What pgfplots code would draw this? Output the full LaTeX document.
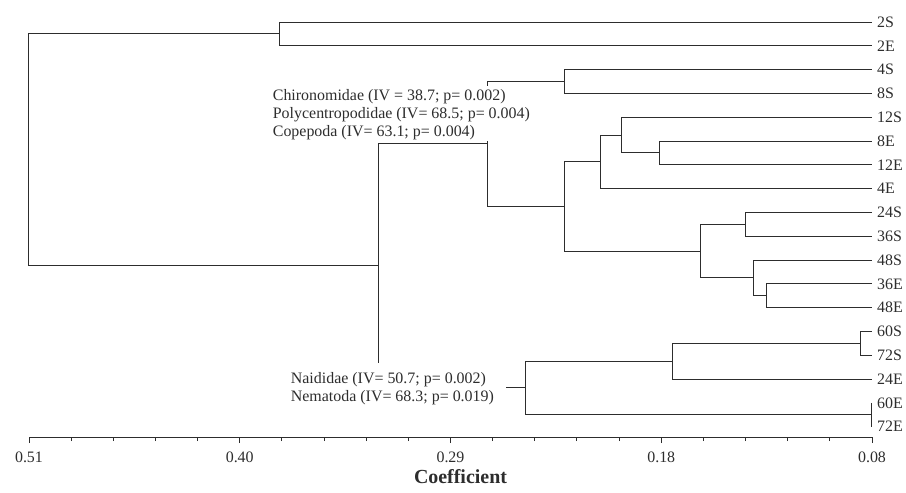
\documentclass[border=0pt]{standalone}
\usepackage{fontspec}
\setmainfont{Liberation Serif}
\usepackage{pgfplots}
\pgfplotsset{compat=1.18}
\usetikzlibrary{calc}

\newcommand\lab{\fontsize{16}{18}\selectfont}
\definecolor{ink}{RGB}{45,45,45}

\begin{document}
\begin{tikzpicture}
\begin{axis}[
  scale only axis, width=843bp, height=437bp,
  x dir=reverse, xmin=0.08, xmax=0.51, ymin=0.563, ymax=18.925,
  axis x line=bottom, axis y line=none,
  axis line style={-, ink, line width=0.9bp},
  xtick={0.08,0.1875,0.295,0.4025,0.51},
  xticklabels={0.08,0.18,0.29,0.40,0.51},
  minor x tick num=4,
  tick align=outside,
  major tick length=6bp, minor tick length=4bp,
  every tick/.style={ink, line width=0.9bp},
  xticklabel style={font=\lab, text=ink, anchor=base, yshift=-19bp},
  /pgf/number format/assume math mode=true,
  xlabel={Coefficient},
  xlabel style={font=\bfseries\fontsize{20}{24}\selectfont, text=ink, xshift=10bp},
  clip=false,
  every axis plot post/.append style={ink, solid, line width=1bp, mark=none},
]
% each internal node: child1 -> node height -> child2
\addplot coordinates {(0.08,18)(0.3822,18)(0.3822,17)(0.08,17)};          % 2S,2E
\addplot coordinates {(0.08,16)(0.2366,16)(0.2366,15)(0.08,15)};          % 4S,8S
\addplot coordinates {(0.08,13)(0.1885,13)(0.1885,12)(0.08,12)};          % 8E,12E
\addplot coordinates {(0.08,14)(0.2078,14)(0.2078,12.5)(0.1885,12.5)};    % 12S
\addplot coordinates {(0.2078,13.25)(0.2185,13.25)(0.2185,11)(0.08,11)};  % 4E
\addplot coordinates {(0.08,10)(0.1443,10)(0.1443,9)(0.08,9)};            % 24S,36S
\addplot coordinates {(0.08,7)(0.1337,7)(0.1337,6)(0.08,6)};              % 36E,48E
\addplot coordinates {(0.08,8)(0.1405,8)(0.1405,6.5)(0.1337,6.5)};        % 48S
\addplot coordinates {(0.1443,9.5)(0.1674,9.5)(0.1674,7.25)(0.1405,7.25)};
\addplot coordinates {(0.2185,12.125)(0.2366,12.125)(0.2366,8.375)(0.1674,8.375)};
\addplot coordinates {(0.2366,15.5)(0.2759,15.5)(0.2759,10.25)(0.2366,10.25)};
\addplot coordinates {(0.08,5)(0.0858,5)(0.0858,4)(0.08,4)};              % 60S,72S
\addplot coordinates {(0.0858,4.5)(0.1819,4.5)(0.1819,3)(0.08,3)};        % 24E
\addplot coordinates {(0.08,2)(0.08,1)};                                  % 60E,72E
\addplot coordinates {(0.1819,3.75)(0.2566,3.75)(0.2566,1.5)(0.08,1.5)};
\addplot coordinates {(0.2759,12.875)(0.3315,12.875)(0.3315,2.625)(0.2566,2.625)};
\addplot coordinates {(0.3822,17.5)(0.51,17.5)(0.51,7.75)(0.3315,7.75)};   % root

% indicator species, on white over the branches
\fill[white] (axis cs:0.3881,15.31) rectangle (axis cs:0.2493,13.0);
\fill[white] (axis cs:0.3794,3.679) rectangle (axis cs:0.2668,1.943);
\begin{scope}[every node/.style={anchor=west, inner sep=0pt, font=\lab, text=ink}]
\node at (axis cs:0.3857,14.85) {Chironomidae (IV = 38.7; p= 0.002)};
\node at (axis cs:0.3857,14.09) {Polycentropodidae (IV= 68.5; p= 0.004)};
\node at (axis cs:0.3857,13.33) {Copepoda (IV= 63.1; p= 0.004)};
\node at (axis cs:0.3765,2.981) {Naididae (IV= 50.7; p= 0.002)};
\node at (axis cs:0.3765,2.224) {Nematoda (IV= 68.3; p= 0.019)};
% leaves
\node[xshift=5bp] at (axis cs:0.08,18) {2S};
\node[xshift=5bp] at (axis cs:0.08,17) {2E};
\node[xshift=5bp] at (axis cs:0.08,16) {4S};
\node[xshift=5bp] at (axis cs:0.08,15) {8S};
\node[xshift=5bp] at (axis cs:0.08,14) {12S};
\node[xshift=5bp] at (axis cs:0.08,13) {8E};
\node[xshift=5bp] at (axis cs:0.08,12) {12E};
\node[xshift=5bp] at (axis cs:0.08,11) {4E};
\node[xshift=5bp] at (axis cs:0.08,10) {24S};
\node[xshift=5bp] at (axis cs:0.08,9) {36S};
\node[xshift=5bp] at (axis cs:0.08,8) {48S};
\node[xshift=5bp] at (axis cs:0.08,7) {36E};
\node[xshift=5bp] at (axis cs:0.08,6) {48E};
\node[xshift=5bp] at (axis cs:0.08,5) {60S};
\node[xshift=5bp] at (axis cs:0.08,4) {72S};
\node[xshift=5bp] at (axis cs:0.08,3) {24E};
\node[xshift=5bp] at (axis cs:0.08,2) {60E};
\node[xshift=5bp] at (axis cs:0.08,1) {72E};
\end{scope}
\coordinate (bl) at (axis cs:0.51,0.563);
\end{axis}
\pgfresetboundingbox
\path ($(bl)+(-29bp,-56bp)$) rectangle ++(906bp,493bp);
\end{tikzpicture}
\end{document}
